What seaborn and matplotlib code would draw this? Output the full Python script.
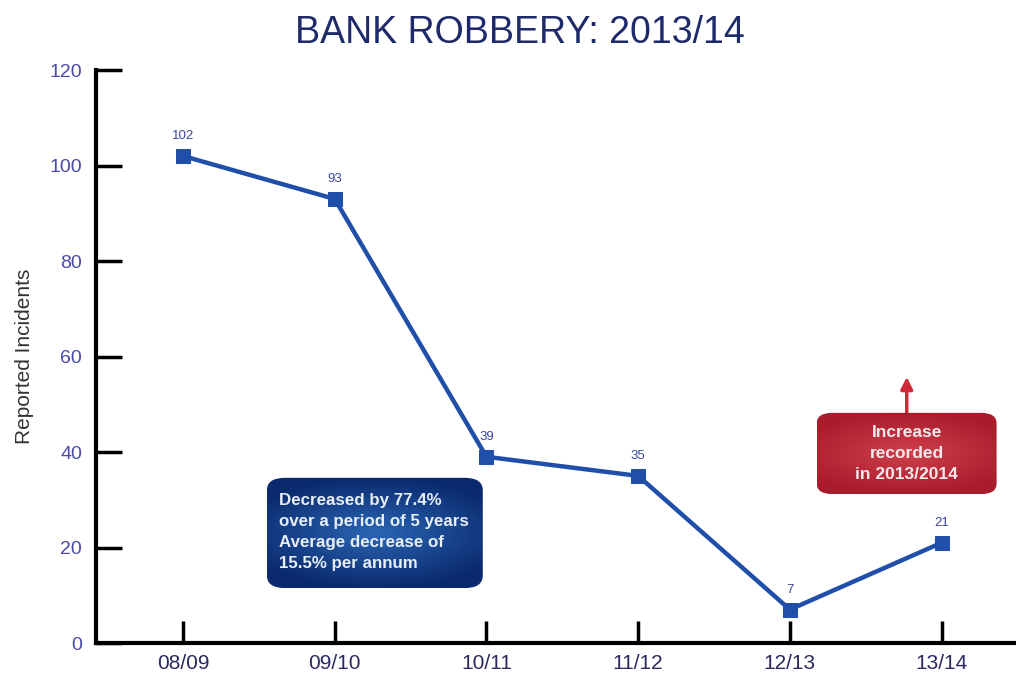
import numpy as np
import pandas as pd
import seaborn as sns
import matplotlib.pyplot as plt
from matplotlib.patches import FancyBboxPatch

years = ["08/09", "09/10", "10/11", "11/12", "12/13", "13/14"]
incidents = [102, 93, 39, 35, 7, 21]
yticks = [0, 20, 40, 60, 80, 100, 120]

blue_note = "Decreased by 77.4%\nover a period of 5 years\nAverage decrease of\n15.5% per annum"
red_note = "Increase\nrecorded\nin 2013/2014"

df = pd.DataFrame({"pos": range(len(years)), "year": years, "incidents": incidents})

sns.set_style("white")
plt.rcParams["font.family"] = ["Liberation Sans", "DejaVu Sans"]

fig = plt.figure(figsize=(10.16, 6.8), dpi=100)
ax = fig.add_axes([0.0945, 0.0544, 0.9055, 0.8426])

sns.lineplot(data=df, x="pos", y="incidents", ax=ax, color="#1f4fa8", linewidth=3.2,
             marker="s", markersize=10, markeredgecolor="#1f4fa8")

for p, v in zip(df["pos"], df["incidents"]):
    ax.annotate(str(v), (p, v), xytext=(0, 10), textcoords="offset points",
                ha="center", va="bottom", fontsize=9.5, color="#3a46a0")

ax.set_xlim(-0.573, 5.49)
ax.set_ylim(0, 120)
ax.set_xticks(df["pos"])
ax.set_xticklabels(years)
ax.set_yticks(yticks)
ax.tick_params(axis="y", left=True, direction="in", length=19, width=2.5, colors="black",
               labelcolor="#4a4aa8", labelsize=14, pad=10)
ax.tick_params(axis="x", bottom=True, direction="in", length=16, width=2.5, colors="black",
               labelcolor="#2a2a60", labelsize=15, pad=8)
for s in ["top", "right"]:
    ax.spines[s].set_visible(False)
for s in ["left", "bottom"]:
    ax.spines[s].set_linewidth(3)
    ax.spines[s].set_color("black")
ax.set_xlabel("")
ax.set_ylabel("Reported Incidents", fontsize=15, color="#333333", labelpad=11)
fig.text(0.512, 0.951, "BANK ROBBERY: 2013/14", ha="center", va="center",
         fontsize=27, color="#1f2a6a")


def gradient_box(x0, y0, w, h, c_edge, c_mid, rad):
    box = FancyBboxPatch((x0, y0), w, h, boxstyle="round,pad=0,rounding_size=%f" % rad,
                         mutation_aspect=22, facecolor="none", edgecolor="none", zorder=3)
    ax.add_patch(box)
    xx, yy = np.meshgrid(np.linspace(-1, 1, 200), np.linspace(-1, 1, 100))
    r = np.clip(np.sqrt(xx ** 2 * 0.6 + yy ** 2), 0, 1)[..., None]
    ce = np.array(plt.matplotlib.colors.to_rgb(c_edge))
    cm = np.array(plt.matplotlib.colors.to_rgb(c_mid))
    img = cm * (1 - r) + ce * r
    im = ax.imshow(img, extent=(x0, x0 + w, y0, y0 + h), aspect="auto", zorder=3)
    im.set_clip_path(box)


gradient_box(0.553, 11.5, 1.423, 23.1, "#0b2a6e", "#2a66b4", 0.12)
ax.text(0.63, 23.2, blue_note, ha="left", va="center", fontsize=12.2, fontweight="bold",
        color="#e8eef8", linespacing=1.5, zorder=4)

ax.annotate("", xy=(4.77, 56.3), xytext=(4.77, 47), zorder=2,
            arrowprops=dict(arrowstyle="-|>,head_width=0.35,head_length=0.7",
                            color="#d02a3a", lw=2.5))
gradient_box(4.177, 31.2, 1.185, 17.0, "#a81c2c", "#d0404c", 0.1)
ax.text(4.77, 39.7, red_note, ha="center", va="center", fontsize=12.5, fontweight="bold",
        color="#f4e8ea", linespacing=1.5, zorder=4)

ax.set_xlim(-0.573, 5.49)
ax.set_ylim(0, 120)
fig.savefig("out.png", dpi=100)
